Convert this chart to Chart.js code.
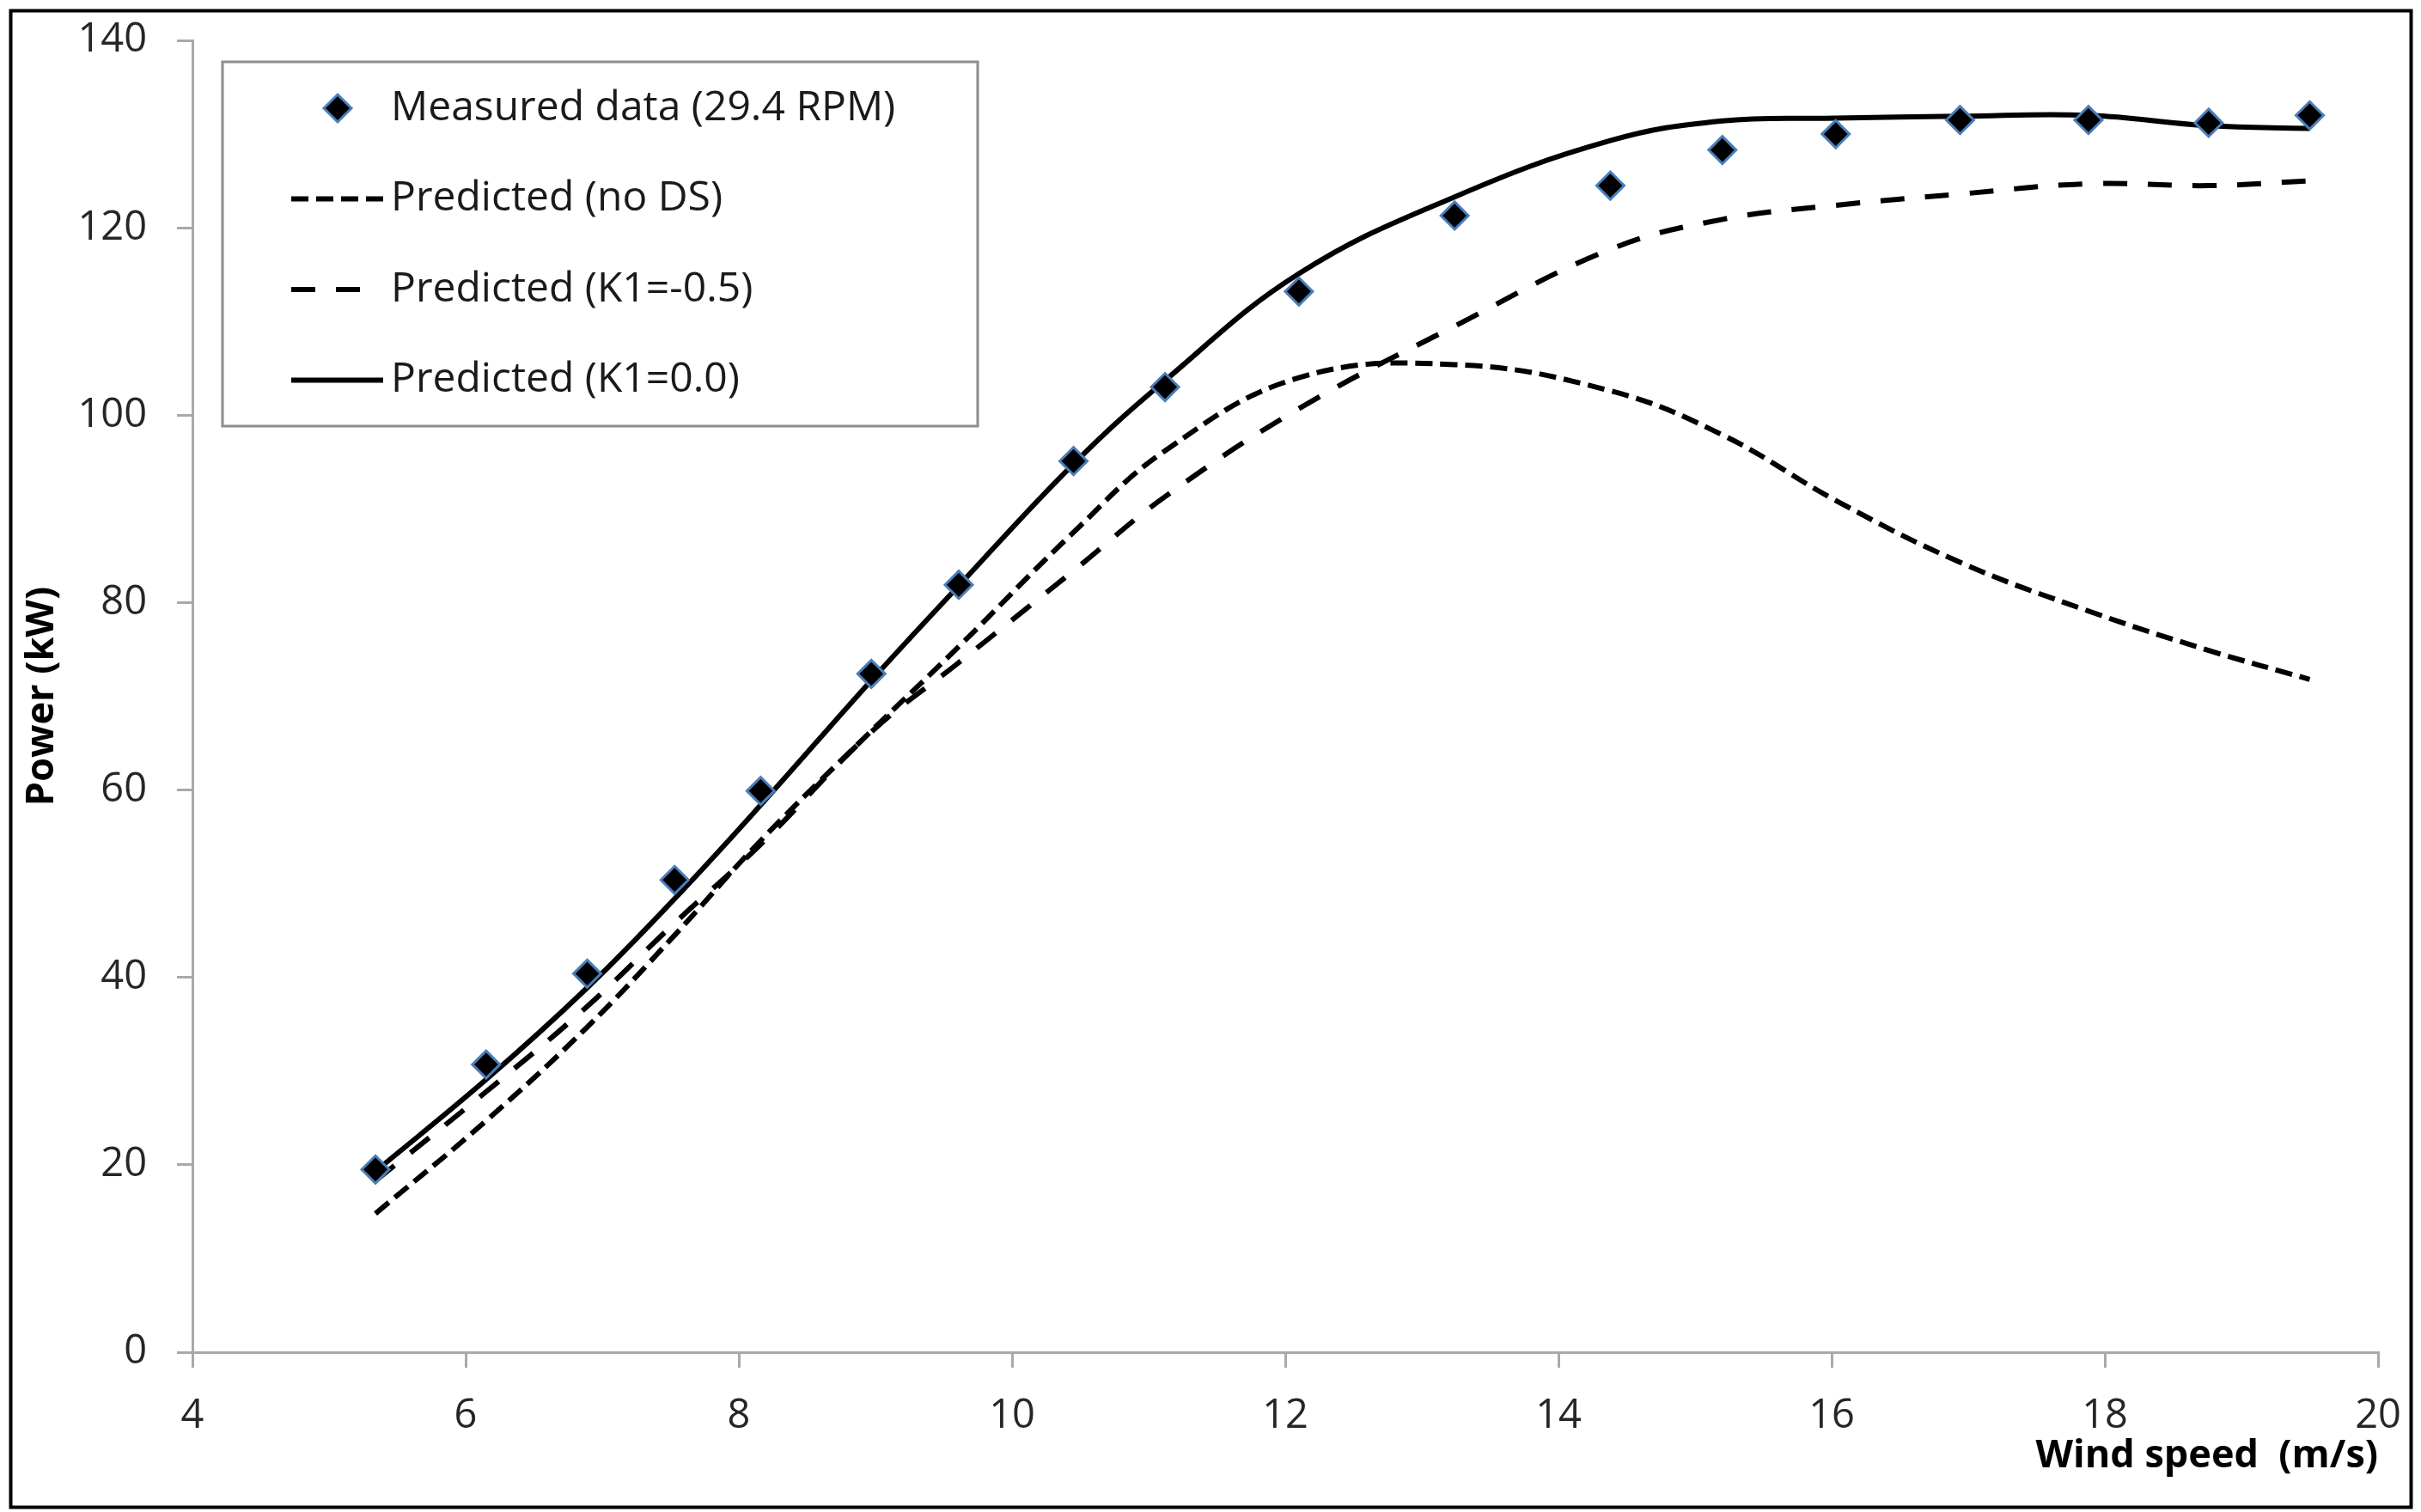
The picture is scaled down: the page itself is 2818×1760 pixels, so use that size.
<!DOCTYPE html>
<html>
<head>
<title>Power vs wind speed</title>
<script src="https://cdn.jsdelivr.net/npm/chart.js"></script>
<style>
  html, body { margin: 0; padding: 0; background: #fff; }
  #wrap { width: 2818px; height: 1760px; position: relative; }
</style>
</head>
<body>
<div id="wrap"><canvas id="myChart"></canvas></div>
<script>
// wind speed (m/s) of the measured points, predicted curves read at the same speeds
const windSpeed  = [5.34, 6.15, 6.89, 7.53, 8.16, 8.97, 9.61, 10.45, 11.12, 12.1, 13.24, 14.38, 15.2, 16.03, 16.94, 17.88, 18.76, 19.5];
const measured   = [19.5, 30.7, 40.4, 50.4, 59.9, 72.4, 81.9, 95.1, 103.0, 113.2, 121.3, 124.5, 128.3, 130.0, 131.5, 131.5, 131.2, 132.0];
const predNoDS   = [14.8, 24.7, 34.7, 44.5, 54.6, 66.3, 75.3, 87.5, 96.2, 104.0, 105.4, 102.6, 97.9, 90.9, 84.3, 79.1, 74.9, 71.8];
const predK1neg  = [18.3, 27.8, 36.9, 45.8, 54.2, 66.2, 73.6, 83.4, 91.3, 100.7, 109.5, 117.7, 120.9, 122.4, 123.6, 124.7, 124.5, 125.0];
const predK1zero = [19.3, 29.1, 38.9, 48.4, 58.4, 71.7, 81.8, 94.8, 103.7, 115.1, 123.3, 129.3, 131.4, 131.7, 131.9, 132.0, 130.9, 130.6];

const seriesNames = ['Measured data (29.4 RPM)', 'Predicted (no DS)', 'Predicted (K1=-0.5)', 'Predicted (K1=0.0)'];
const xTicks = [4, 6, 8, 10, 12, 14, 16, 18, 20];
const yTicks = [0, 20, 40, 60, 80, 100, 120, 140];

const pts = ys => windSpeed.map((x, i) => ({ x: x, y: ys[i] }));

const FONT = '"Open Sans", "Noto Sans", sans-serif';
const AXIS_GREY = '#a9a9a9';

// white page + black frame
const frame = {
    id: 'frame',
    beforeDraw(chart) {
        const ctx = chart.ctx;
        ctx.save();
        ctx.fillStyle = '#fff';
        ctx.fillRect(0, 0, chart.width, chart.height);
        ctx.restore();
    },
    afterDraw(chart) {
        const ctx = chart.ctx;
        ctx.save();
        ctx.strokeStyle = '#000';
        ctx.lineWidth = 4;
        ctx.strokeRect(12.5, 12.5, chart.width - 24, chart.height - 18);
        ctx.restore();
    }
};

// boxed legend inside the plot area, top left
const boxLegend = {
    id: 'boxLegend',
    afterDatasetsDraw(chart) {
        const ctx = chart.ctx;
        const a = chart.chartArea;
        const x0 = a.left + 35, y0 = a.top + 25, w = 879, h = 424;
        ctx.save();
        ctx.fillStyle = '#fff';
        ctx.fillRect(x0, y0, w, h);
        ctx.strokeStyle = '#8c8c8c';
        ctx.lineWidth = 3;
        ctx.strokeRect(x0, y0, w, h);
        ctx.font = '48px ' + FONT;
        ctx.textBaseline = 'middle';
        ctx.textAlign = 'left';
        chart.data.datasets.forEach((ds, i) => {
            const cy = y0 + 54 + i * 105.5;
            if (ds.showLine === false) {
                const cx = x0 + 134, r = ds.pointRadius;
                ctx.beginPath();
                ctx.moveTo(cx, cy - r);
                ctx.lineTo(cx + r, cy);
                ctx.lineTo(cx, cy + r);
                ctx.lineTo(cx - r, cy);
                ctx.closePath();
                ctx.fillStyle = ds.backgroundColor;
                ctx.fill();
                ctx.lineWidth = ds.borderWidth;
                ctx.strokeStyle = ds.borderColor;
                ctx.stroke();
            } else {
                ctx.beginPath();
                ctx.setLineDash(ds.borderDash || []);
                ctx.lineWidth = ds.borderWidth;
                ctx.strokeStyle = ds.borderColor;
                ctx.moveTo(x0 + 80, cy);
                ctx.lineTo(x0 + 80 + ds.legendLen, cy);
                ctx.stroke();
                ctx.setLineDash([]);
            }
            ctx.fillStyle = '#1a1a1a';
            ctx.fillText(ds.label, x0 + 196, cy);
        });
        ctx.restore();
    }
};

const ctx = document.getElementById('myChart').getContext('2d');

new Chart(ctx, {
    type: 'scatter',
    data: {
        datasets: [{
            label: seriesNames[0],
            data: pts(measured),
            showLine: false,
            pointStyle: 'rectRot',
            pointRadius: 16,
            backgroundColor: '#000',
            borderColor: '#4a7ebb',
            borderWidth: 3
        }, {
            label: seriesNames[1],
            data: pts(predNoDS),
            showLine: true,
            pointRadius: 0,
            borderColor: '#000',
            borderWidth: 6,
            borderDash: [20, 9],
            tension: 0.4,
            legendLen: 107
        }, {
            label: seriesNames[2],
            data: pts(predK1neg),
            showLine: true,
            pointRadius: 0,
            borderColor: '#000',
            borderWidth: 6,
            borderDash: [28, 24],
            tension: 0.4,
            legendLen: 80
        }, {
            label: seriesNames[3],
            data: pts(predK1zero),
            showLine: true,
            pointRadius: 0,
            borderColor: '#000',
            borderWidth: 6,
            tension: 0.4,
            legendLen: 107
        }]
    },
    options: {
        responsive: true,
        maintainAspectRatio: false,
        devicePixelRatio: 1,
        animation: false,
        layout: { padding: { left: 0, right: 50, top: 47, bottom: 0 } },
        plugins: {
            legend: { display: false },
            tooltip: { enabled: false }
        },
        scales: {
            x: {
                type: 'linear',
                min: 4,
                max: 20,
                afterBuildTicks: s => { s.ticks = xTicks.map(v => ({ value: v })); },
                afterFit: s => { s.height = 186; s.paddingLeft = 0; s.paddingRight = 0; },
                grid: { drawOnChartArea: false, drawTicks: true, tickLength: 18, color: AXIS_GREY, lineWidth: 3 },
                border: { display: true, color: AXIS_GREY, width: 3 },
                ticks: { padding: 28, color: '#262626', font: { family: FONT, size: 47 }, maxRotation: 0 },
                title: {
                    display: true,
                    text: 'Wind speed  (m/s)',
                    align: 'end',
                    color: '#000',
                    font: { family: FONT, size: 45, weight: 'bold' },
                    padding: { top: 0, bottom: 38 }
                }
            },
            y: {
                type: 'linear',
                min: 0,
                max: 140,
                afterBuildTicks: s => { s.ticks = yTicks.map(v => ({ value: v })); },
                afterFit: s => { s.width = 224; s.paddingTop = 0; s.paddingBottom = 0; },
                grid: { drawOnChartArea: false, drawTicks: true, tickLength: 18, color: AXIS_GREY, lineWidth: 3 },
                border: { display: true, color: AXIS_GREY, width: 3 },
                ticks: { padding: 35, color: '#262626', font: { family: FONT, size: 47 } },
                title: {
                    display: true,
                    text: 'Power (kW)',
                    color: '#000',
                    font: { family: FONT, size: 45, weight: 'bold' },
                    padding: { top: 22, bottom: 0 }
                }
            }
        }
    },
    plugins: [frame, boxLegend]
});
</script>
</body>
</html>
